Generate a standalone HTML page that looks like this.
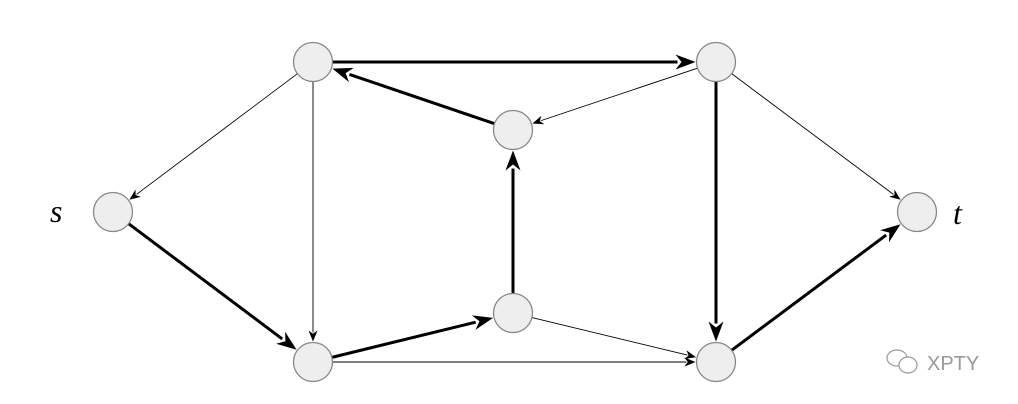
<!DOCTYPE html>
<html><head><meta charset="utf-8"><style>
html,body{margin:0;padding:0;background:#fff;}
svg{display:block;}
</style></head><body>
<svg id="g" width="1018" height="404" xmlns="http://www.w3.org/2000/svg">
<text x="50" y="222" font-family="Liberation Serif, serif" font-style="italic" font-size="32" fill="#000">s</text>
<text x="953" y="224" font-family="Liberation Serif, serif" font-style="italic" font-size="32" fill="#000">t</text>
<g transform="translate(886,350)" fill="none" stroke="#999" stroke-width="1.2">
<ellipse cx="11" cy="8" rx="10" ry="8"/>
<ellipse cx="22" cy="15" rx="9" ry="8" fill="#fff"/>
</g>
<text x="927" y="370" font-family="Liberation Sans, sans-serif" font-size="20" fill="#999">XPTY</text>
</svg>
<script>
var N={s:[113,212],A:[313,62],B:[313,362],C:[513,130],D:[513,313],E:[716,62],F:[716,362],t:[917,212]};
var R=19.5;
var thin=[["A","s"],["A","B"],["E","C"],["E","t"],["D","F"],["B","F"]];
var thick=[["A","E"],["C","A"],["D","C"],["s","B"],["B","D"],["E","F"],["F","t"]];
var svg=document.getElementById("g"),ns="http://www.w3.org/2000/svg";
function el(t,a){var e=document.createElementNS(ns,t);for(var k in a)e.setAttribute(k,a[k]);svg.insertBefore(e,svg.firstChild);return e;}
function edge(p,q,w,hl,hw){
 var a=N[p],b=N[q],dx=b[0]-a[0],dy=b[1]-a[1],L=Math.hypot(dx,dy),ux=dx/L,uy=dy/L;
 var x1=a[0]+ux*R,y1=a[1]+uy*R,x2=b[0]-ux*(R+1),y2=b[1]-uy*(R+1);
 var bx=x2-ux*hl,by=y2-uy*hl,nx=-uy,ny=ux;
 el("line",{x1:x1,y1:y1,x2:bx+ux*2,y2:by+uy*2,stroke:"#000","stroke-width":w});
 var mx=x2-ux*hl*0.7,my=y2-uy*hl*0.7;
 el("path",{d:"M"+x2+","+y2+" L"+(bx+nx*hw)+","+(by+ny*hw)+" L"+mx+","+my+" L"+(bx-nx*hw)+","+(by-ny*hw)+"Z",fill:"#000"});
}
for(var k in N){el("circle",{cx:N[k][0],cy:N[k][1],r:R,fill:"#eeeeee",stroke:"#888","stroke-width":1.3});}
thin.forEach(function(e){edge(e[0],e[1],0.9,11,4.5);});
thick.forEach(function(e){edge(e[0],e[1],3,20,7.5);});
</script>
</body></html>
